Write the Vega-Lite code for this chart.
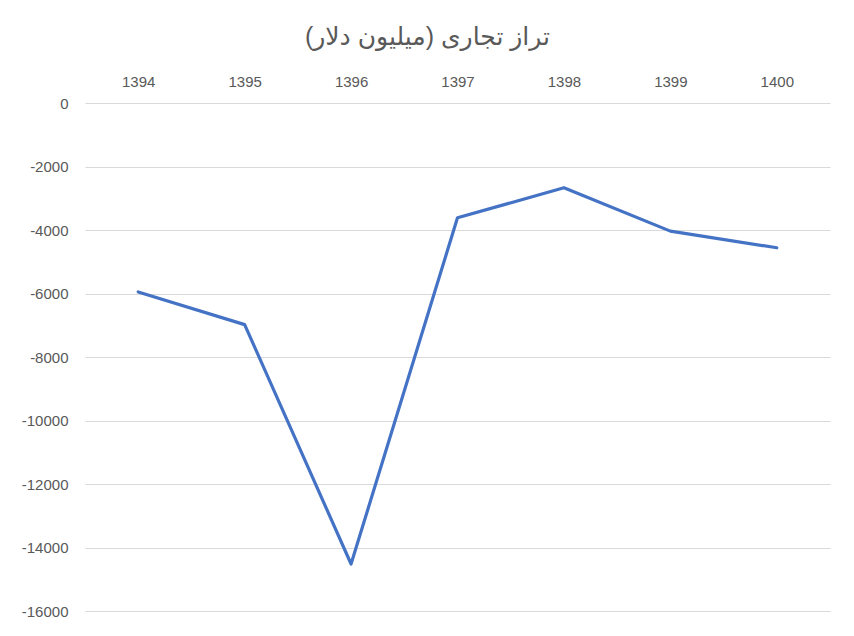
{
  "$schema": "https://vega.github.io/schema/vega-lite/v6.json",
  "autosize": "none",
  "width": 745,
  "height": 508,
  "padding": {"left": 85, "top": 103, "right": 24, "bottom": 25},
  "background": "white",
  "title": {
    "text": "تراز تجاری (میلیون دلار)",
    "font": "Liberation Sans, DejaVu Sans",
    "fontSize": 25,
    "fontWeight": "normal",
    "color": "#595959",
    "offset": 24,
    "dx": -30
  },
  "data": {
    "values": [
      {"year": "1394", "balance": -5950},
      {"year": "1395", "balance": -6980},
      {"year": "1396", "balance": -14520},
      {"year": "1397", "balance": -3615},
      {"year": "1398", "balance": -2670},
      {"year": "1399", "balance": -4035},
      {"year": "1400", "balance": -4560}
    ]
  },
  "mark": {"type": "line", "color": "#4472C4", "strokeWidth": 3.2, "strokeJoin": "round", "strokeCap": "round"},
  "encoding": {
    "x": {
      "field": "year",
      "type": "ordinal",
      "scale": {"type": "point", "padding": 0.5},
      "axis": {
        "orient": "top",
        "title": null,
        "domain": false,
        "ticks": false,
        "grid": false,
        "labelAngle": 0,
        "labelPadding": 14,
        "labelFontSize": 15,
        "labelColor": "#595959",
        "labelFont": "Liberation Sans"
      }
    },
    "y": {
      "field": "balance",
      "type": "quantitative",
      "scale": {"domain": [-16000, 0], "nice": false},
      "axis": {
        "title": null,
        "values": [0, -2000, -4000, -6000, -8000, -10000, -12000, -14000, -16000],
        "labelExpr": "'' + datum.value",
        "domain": false,
        "ticks": false,
        "grid": true,
        "gridColor": "#d9d9d9",
        "gridWidth": 1,
        "labelPadding": 17,
        "labelFontSize": 15,
        "labelColor": "#595959",
        "labelFont": "Liberation Sans"
      }
    }
  },
  "config": {"view": {"stroke": null}}
}
